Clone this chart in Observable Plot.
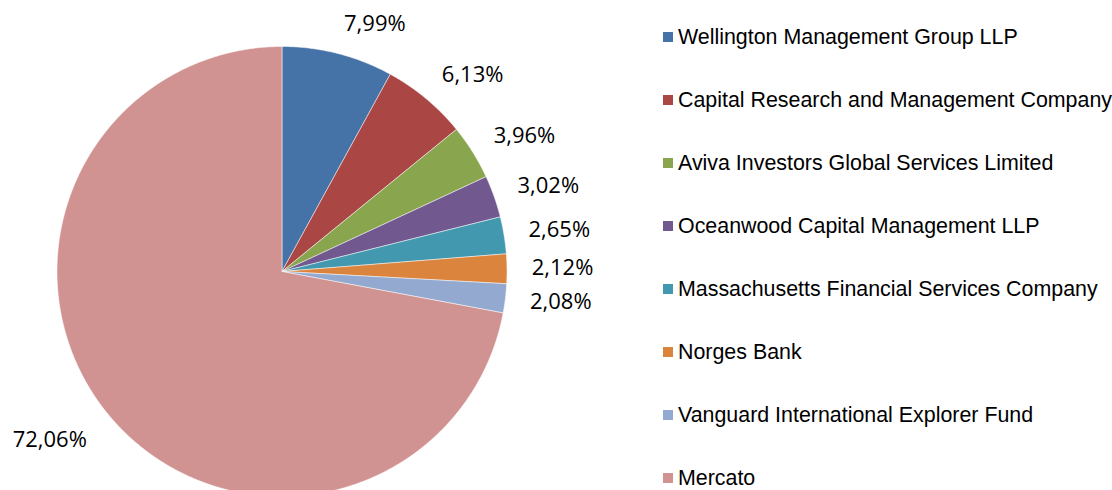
<!DOCTYPE html>
<html>
<head>
<meta charset="utf-8">
<script src="https://cdn.jsdelivr.net/npm/d3@7"></script>
<script src="https://cdn.jsdelivr.net/npm/@observablehq/plot@0.6"></script>
<style>
  html, body { margin: 0; padding: 0; background: #fff; }
  #wrap { position: relative; width: 1112px; height: 490px; overflow: hidden; }
  #wrap svg { position: absolute; left: 0; top: 0; }
  #legend { position: absolute; left: 663px; top: 0; font-family: "Liberation Sans", Arial, sans-serif; font-size: 21.4px; color: #000; }
  .row { position: absolute; left: 0; height: 18px; line-height: 18px; display: flex; align-items: center; white-space: nowrap; }
  .sw { width: 10px; height: 10px; margin-right: 5px; flex: none; }
</style>
</head>
<body>
<div id="wrap"></div>
<script>
const names = [
  "Wellington Management Group LLP",
  "Capital Research and Management Company",
  "Aviva Investors Global Services Limited",
  "Oceanwood Capital Management LLP",
  "Massachusetts Financial Services Company",
  "Norges Bank",
  "Vanguard International Explorer Fund",
  "Mercato"
];
const shares = [7.99, 6.13, 3.96, 3.02, 2.65, 2.12, 2.08, 72.06];
const labels = ["7,99%", "6,13%", "3,96%", "3,02%", "2,65%", "2,12%", "2,08%", "72,06%"];
const colors = ["#4572A7", "#AA4643", "#89A54E", "#71588F", "#4198AF", "#DB843D", "#93A9CF", "#D19392"];

// slice outlines in unit-circle coordinates (angle 0 at top, clockwise)
const arcs = d3.pie().sort(null).value(d => d)(shares);
const polys = [];
arcs.forEach((a, i) => {
  const n = Math.max(4, Math.ceil((a.endAngle - a.startAngle) / 0.005));
  polys.push({name: names[i], x: 0, y: 0});
  for (let k = 0; k <= n; k++) {
    const t = a.startAngle + (a.endAngle - a.startAngle) * k / n;
    polys.push({name: names[i], x: Math.sin(t), y: Math.cos(t)});
  }
  polys.push({name: names[i], x: 0, y: 0});
});
const labelRx = 1.11, labelRy = 1.135;
const labelData = arcs.map((a, i) => {
  const m = (a.startAngle + a.endAngle) / 2;
  return {label: labels[i], x: Math.sin(m) * labelRx, y: Math.cos(m) * labelRy, right: Math.sin(m) >= 0};
});

const cx = 281.5, cy = 271, R = 225;
const labelFont = {fontSize: 22, fontFamily: "Open Sans, sans-serif", fill: "#000"};
const chart = Plot.plot({
  width: 1112,
  height: 490,
  margin: 0,
  x: {domain: [-1, 1], range: [cx - R, cx + R], axis: null},
  y: {domain: [-1, 1], range: [cy + R, cy - R], axis: null},
  color: {domain: names, range: colors},
  marks: [
    Plot.line(polys, {x: "x", y: "y", z: "name", fill: "name", stroke: "#ffffff", strokeWidth: 0.7, strokeOpacity: 0.7, curve: "linear"}),
    Plot.text(labelData.filter(d => d.right), {x: "x", y: "y", text: "label", textAnchor: "start", ...labelFont}),
    Plot.text(labelData.filter(d => !d.right), {x: "x", y: "y", text: "label", textAnchor: "end", dx: -3, dy: 5, ...labelFont})
  ]
});
const wrap = document.getElementById("wrap");
wrap.appendChild(chart);

const legend = document.createElement("div");
legend.id = "legend";
names.forEach((nm, i) => {
  const row = document.createElement("div");
  row.className = "row";
  row.style.top = (37 + i * 63 - 9) + "px";
  const sw = document.createElement("span");
  sw.className = "sw";
  sw.style.background = colors[i];
  const tx = document.createElement("span");
  tx.textContent = nm;
  row.appendChild(sw);
  row.appendChild(tx);
  legend.appendChild(row);
});
wrap.appendChild(legend);
</script>
</body>
</html>
